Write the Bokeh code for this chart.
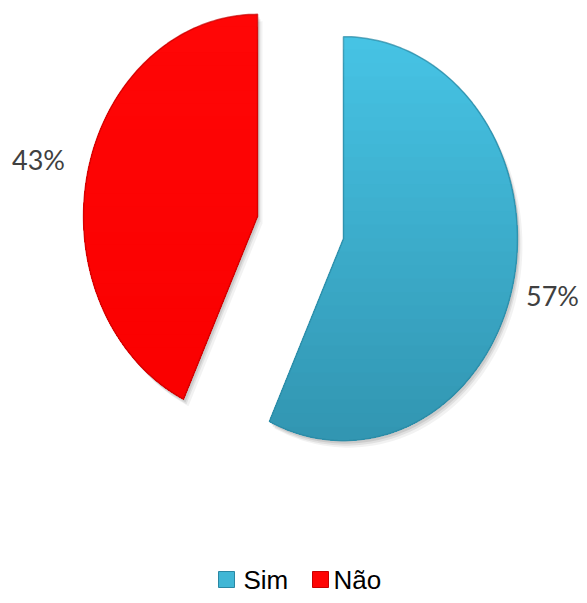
import numpy as np
from bokeh.plotting import figure
from bokeh.models import Range1d
from bokeh.core.properties import value
from bokeh.embed import file_html
from bokeh.resources import INLINE

# ---- data ----
labels = ["Sim", "Não"]
values = [57, 43]
pct_labels = ["57%", "43%"]

# ---- style / layout ----
W, H = 579, 595
CX, CY = 300, 227          # pie centre (px)
RX, RY = 174, 202          # ellipse radii
EXP = 0.253                # explosion fraction of radius
LAB = 1.29                 # label radius fraction

def lerp_hex(c1, c2, f):
    a = [int(c1[i:i + 2], 16) for i in (1, 3, 5)]
    b = [int(c2[i:i + 2], 16) for i in (1, 3, 5)]
    return "#%02x%02x%02x" % tuple(int(round(a[k] + (b[k] - a[k]) * f)) for k in range(3))

grad = {"Sim": ("#46c3e4", "#3296b2"), "Não": ("#ff0606", "#fa0000")}
edge = {"Sim": "#2a87a3", "Não": "#c80000"}

p = figure(width=W, height=H, output_backend="svg", toolbar_location=None,
           x_range=Range1d(0, W), y_range=Range1d(H, 0),
           min_border=0, outline_line_color=None)
p.axis.visible = False
p.grid.visible = False
p.background_fill_color = "white"

def clip_below(xs, ys, t):
    """keep part of polygon with y >= t"""
    ox, oy = [], []
    n = len(xs)
    for i in range(n):
        x1, y1 = xs[i], ys[i]
        x2, y2 = xs[(i + 1) % n], ys[(i + 1) % n]
        in1, in2 = y1 >= t, y2 >= t
        if in1:
            ox.append(x1); oy.append(y1)
        if in1 != in2:
            f = (t - y1) / (y2 - y1)
            ox.append(x1 + f * (x2 - x1)); oy.append(t)
    return ox, oy

total = float(sum(values))
start = 0.0
slices = []
for lab, v, pl in zip(labels, values, pct_labels):
    a0 = start / total * 2 * np.pi
    a1 = (start + v) / total * 2 * np.pi
    mid = (a0 + a1) / 2
    cx = CX + EXP * RX * np.sin(mid)
    cy = CY - EXP * RY * np.cos(mid)
    t = np.linspace(a0, a1, 160)
    xs = [cx] + list(cx + RX * np.sin(t))
    ys = [cy] + list(cy - RY * np.cos(t))
    slices.append((lab, xs, ys, mid, cx, cy, pl))
    start += v

# shadows
for lab, xs, ys, mid, cx, cy, pl in slices:
    for dx, dy, al in [(5, 7, 0.05), (3, 5, 0.07), (2, 3, 0.09)]:
        p.patch([x + dx for x in xs], [y + dy for y in ys], fill_color="#000000",
                fill_alpha=al, line_color=None)

# slices with vertical gradient
for lab, xs, ys, mid, cx, cy, pl in slices:
    c1, c2 = grad[lab]
    ymin, ymax = min(ys), max(ys)
    N = 30
    for k in range(N):
        tt = ymin + (ymax - ymin) * k / N
        bx, by = clip_below(xs, ys, tt - 0.5)
        if len(bx) < 3:
            continue
        p.patch(bx, by, fill_color=lerp_hex(c1, c2, k / (N - 1)), line_color=None)
    p.patch(xs, ys, fill_color=None, line_color=edge[lab], line_width=1.5, line_alpha=0.7)
    # label
    lx = cx + LAB * RX * np.sin(mid)
    ly = cy - LAB * RY * np.cos(mid)
    p.text([min(lx, W - 27)], [ly], text=[pl], text_align="center", text_baseline="middle",
           text_font=value("Lato"), text_font_size="27px", text_color="#404040")

# legend (manual)
leg_x = [226, 320]
leg_tx = [243, 333]
leg_y = 579
for lab, mx, tx in zip(labels, leg_x, leg_tx):
    c1, c2 = grad[lab]
    p.scatter([mx], [leg_y], marker="square", size=16, fill_color=lerp_hex(c1, c2, 0.3),
              line_color=edge[lab], line_width=1)
    p.text([tx], [leg_y], text=[lab], text_align="left", text_baseline="middle",
           text_font=value("Liberation Sans"), text_font_size="26px", text_color="#000000")

open("out.html", "w").write(file_html(p, INLINE))
